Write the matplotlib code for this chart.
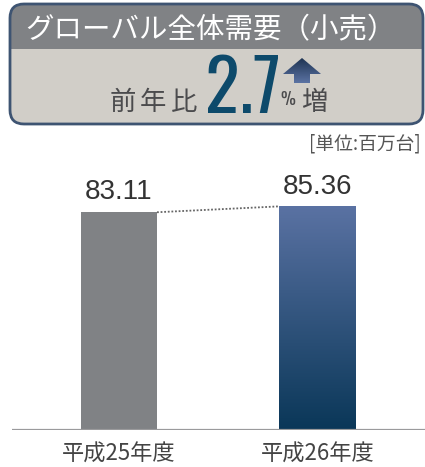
import matplotlib
matplotlib.use("Agg")
import matplotlib.pyplot as plt
import numpy as np
from matplotlib.patches import FancyBboxPatch, Rectangle, Polygon
from matplotlib.colors import LinearSegmentedColormap

plt.rcParams['font.family'] = ['Noto Sans CJK JP', 'DejaVu Sans']

categories = ["平成25年度", "平成26年度"]
values = [83.11, 85.36]
value_labels = ["83.11", "85.36"]
title = "グローバル全体需要（小売）"
growth = "2.7"
unit = "[単位:百万台]"

W, H = 425, 467
fig = plt.figure(figsize=(W / 100, H / 100), dpi=100)

# ---------- bar chart ----------
ax = fig.add_axes([12 / W, (H - 430) / H, 413 / W, 262 / H])
x = np.arange(len(categories))
bw = 0.383
bars = ax.bar(x, values, width=bw, color=["#808285", "none"], zorder=2)
cmap = LinearSegmentedColormap.from_list("g", ["#0a3758", "#5a72a3"])
grad = np.linspace(0, 1, 256).reshape(-1, 1)
b = bars[1]
im = ax.imshow(grad, cmap=cmap, aspect='auto', origin='lower',
               extent=[b.get_x(), b.get_x() + b.get_width(), 0, b.get_height()], zorder=2)
im.set_clip_path(b)
ax.set_xlim(-0.539, 1.5416)
ax.set_ylim(0, 100)

ax.plot([x[0] + bw / 2, x[1] - bw / 2], [values[0], values[1]], linestyle=(0, (1, 1)),
        color="#666666", lw=1.3, zorder=3)
for xi, v, lab in zip(x, values, value_labels):
    ax.text(xi, v + 2.6, lab, ha='center', va='bottom', fontsize=20, color="#333333",
            family=['Liberation Sans', 'DejaVu Sans'])
ax.axhline(0, color="#9a9a9c", lw=1.6, zorder=4)
for s in ax.spines.values():
    s.set_visible(False)
ax.set_yticks([])
ax.set_xticks(x, categories)
ax.tick_params(axis='x', length=0, pad=9, labelsize=16, labelcolor="#444444")

# ---------- header overlay ----------
ov = fig.add_axes([0, 0, 1, 1])
ov.axis('off')

box = FancyBboxPatch((10, 4), 413, 120, boxstyle="round,pad=0,rounding_size=14",
                     facecolor="#d1cec8", edgecolor="none", zorder=1)
ov.add_patch(box)
top = Rectangle((0, 0), W, 49, facecolor="#808285", edgecolor="none", zorder=2)
ov.add_patch(top)
top.set_clip_path(box)
border = FancyBboxPatch((10, 4), 413, 120, boxstyle="round,pad=0,rounding_size=14",
                        facecolor="none", edgecolor="#3e5472", lw=2, zorder=3)
ov.add_patch(border)

ov.text(211, 38, title, ha='center', va='baseline', fontsize=20.5, color="white", zorder=4)

for cx, ch in zip([123, 153, 184], "前年比"):
    ov.text(cx, 110, ch, ha='center', va='baseline', fontsize=19, color="#4b4b4d", zorder=4)
ov.text(243, 113, growth, ha='center', va='baseline', fontsize=52, color="#0d4a6b",
        fontweight='medium', fontstyle='normal',
        family=['Oswald', 'Roboto Condensed', 'DejaVu Sans'], zorder=4)
ov.text(288, 105, "%", ha='center', va='baseline', fontsize=12, color="#4b4b4d",
        family=['Oswald', 'DejaVu Sans'], zorder=4)
ov.text(314, 110, "増", ha='center', va='baseline', fontsize=19, color="#4b4b4d", zorder=4)

arrow = Polygon([(302, 58), (321, 74), (310, 74), (310, 83), (294, 83), (294, 74), (283, 74)],
                closed=True, facecolor='none', edgecolor='none', zorder=4)
ov.add_patch(arrow)
acm = LinearSegmentedColormap.from_list("a", ["#1e3352", "#5b73a3"])
aim = ov.imshow(grad, cmap=acm, aspect='auto', origin='upper', extent=[283, 321, 83, 58], zorder=4)
aim.set_clip_path(arrow)

ov.text(421, 144, unit, ha='right', va='center', fontsize=13.5, color="#555555", zorder=4)

ov.set_xlim(0, W)
ov.set_ylim(H, 0)

fig.savefig("out.png", dpi=100)
